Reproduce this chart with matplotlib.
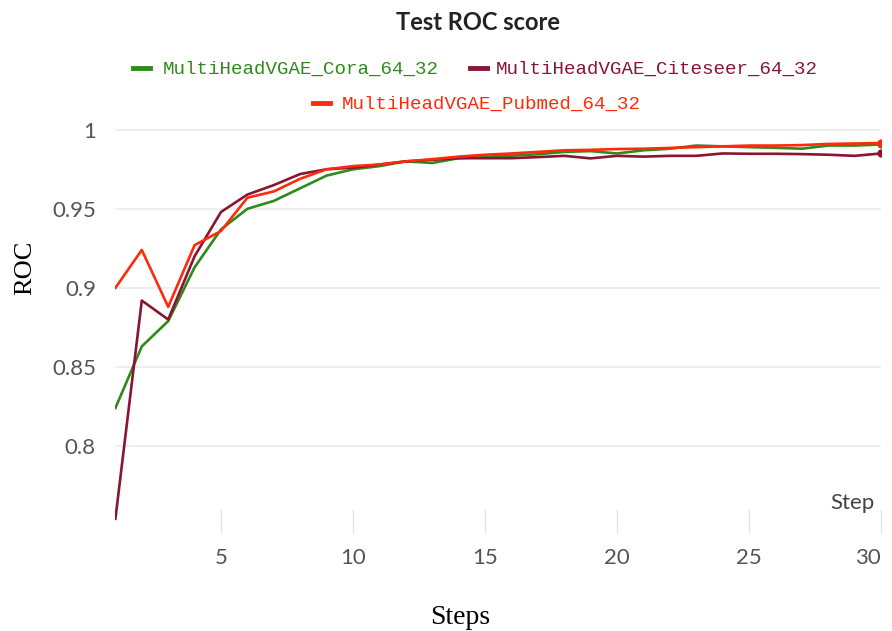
import matplotlib.pyplot as plt
import numpy as np
from matplotlib.lines import Line2D

W, H = 892, 631

steps = np.arange(1, 31)
cora = [0.824, 0.863, 0.879, 0.913, 0.937, 0.950, 0.955, 0.963, 0.971, 0.975,
        0.977, 0.980, 0.979, 0.982, 0.983, 0.9836, 0.9845, 0.986, 0.9865, 0.985,
        0.987, 0.988, 0.990, 0.9895, 0.989, 0.9886, 0.988, 0.990, 0.990, 0.9907]
citeseer = [0.754, 0.892, 0.880, 0.920, 0.948, 0.959, 0.965, 0.972, 0.975, 0.976,
            0.978, 0.980, 0.981, 0.982, 0.982, 0.982, 0.9827, 0.9835, 0.9819, 0.9835,
            0.983, 0.9835, 0.9835, 0.985, 0.9848, 0.9848, 0.9846, 0.9842, 0.9835, 0.985]
pubmed = [0.900, 0.924, 0.888, 0.927, 0.936, 0.957, 0.961, 0.969, 0.975, 0.977,
          0.978, 0.980, 0.9814, 0.983, 0.9842, 0.985, 0.986, 0.987, 0.9873, 0.9878,
          0.988, 0.9885, 0.989, 0.9895, 0.990, 0.990, 0.9903, 0.991, 0.9913, 0.9916]

names = ['MultiHeadVGAE_Cora_64_32', 'MultiHeadVGAE_Citeseer_64_32',
         'MultiHeadVGAE_Pubmed_64_32']
colors = ['#2f8a1c', '#8a1531', '#ff2a0c']
xticks = [5, 10, 15, 20, 25, 30]
yticks = [0.8, 0.85, 0.9, 0.95, 1.0]
ytick_labels = ['0.8', '0.85', '0.9', '0.95', '1']

tickfont = ['Lato', 'DejaVu Sans']

fig = plt.figure(figsize=(W / 100, H / 100), dpi=100)
ax = fig.add_axes([115.4 / W, 1 - 533 / H, (881 - 115.4) / W, (533 - 125) / H])

for ys, c in zip([cora, citeseer, pubmed], colors):
    ax.plot(steps, ys, color=c, lw=1.9, solid_joinstyle='round', zorder=3)
# end dots
ax.plot(steps[-1], cora[-1], 'o', color=colors[0], ms=5, zorder=4)
ax.plot(steps[-1], citeseer[-1], 'o', color=colors[1], ms=5, zorder=4)
ax.plot(steps[-1], pubmed[-1], 'o', color=colors[2], ms=5, zorder=4)

ax.set_xlim(1, 30)
ax.set_ylim(0.745, 1.003)
for s in ax.spines.values():
    s.set_visible(False)
ax.set_yticks(yticks)
ax.set_yticklabels(ytick_labels, family=tickfont, fontsize=16, color='#555555')
ax.set_xticks(xticks)
xl = ax.set_xticklabels([str(t) for t in xticks], family=tickfont, fontsize=16, color='#555555')
xl[-1].set_horizontalalignment('right')
xl[-1].set_x(30)
ax.tick_params(axis='y', length=0, pad=14)
ax.tick_params(axis='x', direction='in', length=17.5, width=1.0, color='#e4e4e4', pad=11)
ax.grid(axis='y', color='#ebebeb', lw=1.2)
ax.set_axisbelow(True)

ax.text(852 / W, 1 - 503 / H, 'Step', transform=fig.transFigure, ha='center', va='center',
        family=tickfont, fontsize=16, color='#444444')

fig.text(478 / W, 1 - 22 / H, 'Test ROC score', ha='center', va='center',
         family='Lato', fontweight='bold', fontsize=17, color='#222222')

# legend
leg_items = [(133, 68, 163), (470, 68, 496), (313, 103, 342)]
for (hx, hy, tx), name, c in zip(leg_items, names, colors):
    fig.add_artist(Line2D([hx / W, (hx + 17) / W], [1 - hy / H, 1 - hy / H],
                          color=c, lw=3.5, transform=fig.transFigure))
    fig.text(tx / W, 1 - (hy + 1) / H, name, ha='left', va='center',
             family='Liberation Mono', fontsize=13.8, color=c)

fig.text(25 / W, 1 - 268 / H, 'ROC', rotation=90, ha='center', va='center',
         family='Liberation Serif', fontsize=19, color='black')
fig.text(460 / W, 1 - 617 / H, 'Steps', ha='center', va='center',
         family='Liberation Serif', fontsize=20, color='black')

fig.savefig('out.png', dpi=100)
